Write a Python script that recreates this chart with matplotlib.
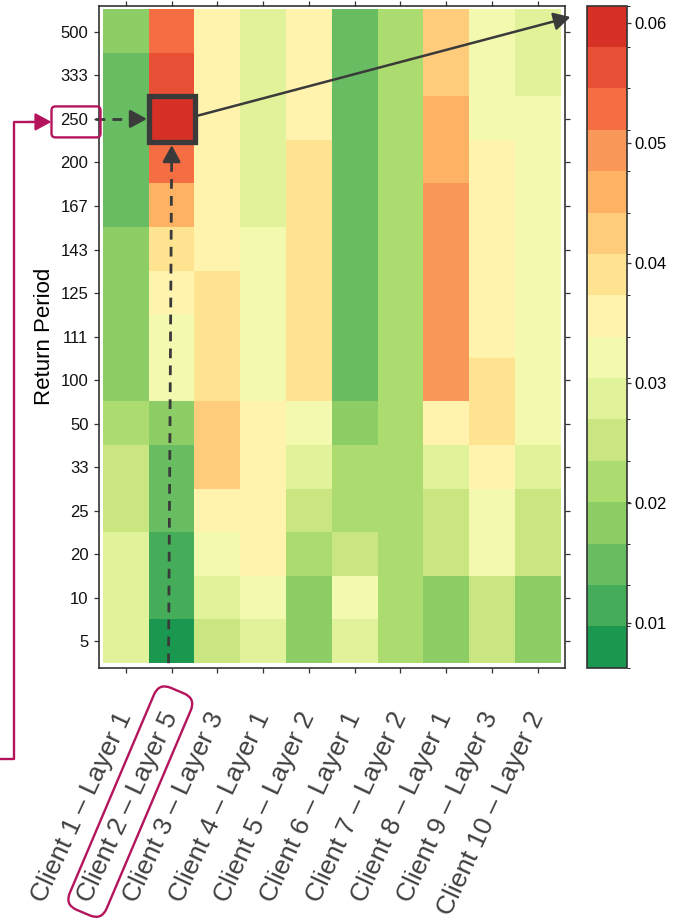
import numpy as np
import matplotlib
matplotlib.use("Agg")
import matplotlib.pyplot as plt
from matplotlib.colors import ListedColormap, BoundaryNorm
from matplotlib.patches import Rectangle, FancyBboxPatch, FancyArrowPatch
from matplotlib.lines import Line2D
from matplotlib.transforms import Affine2D, IdentityTransform

plt.rcParams["font.family"] = ["Liberation Sans", "DejaVu Sans"]

# ---------------------------------------------------------------------------
# Data: loss ratio per client layer and return period (bottom -> top)
# ---------------------------------------------------------------------------
return_periods = [5, 10, 20, 25, 33, 50, 100, 111, 125, 143, 167, 200, 250, 333, 500]
clients = ["Client 1 – Layer 1", "Client 2 – Layer 5", "Client 3 – Layer 3",
           "Client 4 – Layer 1", "Client 5 – Layer 2", "Client 6 – Layer 1",
           "Client 7 – Layer 2", "Client 8 – Layer 1", "Client 9 – Layer 3",
           "Client 10 – Layer 2"]

client_01 = [0.0287, 0.0287, 0.0287, 0.0253, 0.0253, 0.0218, 0.0184, 0.0184,
             0.0184, 0.0184, 0.0149, 0.0149, 0.0149, 0.0149, 0.0184]
client_02 = [0.0080, 0.0115, 0.0115, 0.0149, 0.0149, 0.0184, 0.0321, 0.0321,
             0.0356, 0.0390, 0.0459, 0.0528, 0.0597, 0.0563, 0.0528]
client_03 = [0.0253, 0.0287, 0.0321, 0.0356, 0.0425, 0.0425, 0.0390, 0.0390,
             0.0390, 0.0356, 0.0356, 0.0356, 0.0356, 0.0356, 0.0356]
client_04 = [0.0287, 0.0321, 0.0356, 0.0356, 0.0356, 0.0356, 0.0321, 0.0321,
             0.0321, 0.0321, 0.0287, 0.0287, 0.0287, 0.0287, 0.0287]
client_05 = [0.0184, 0.0184, 0.0218, 0.0253, 0.0287, 0.0321, 0.0390, 0.0390,
             0.0390, 0.0390, 0.0390, 0.0390, 0.0356, 0.0356, 0.0356]
client_06 = [0.0287, 0.0321, 0.0253, 0.0218, 0.0218, 0.0184, 0.0149, 0.0149,
             0.0149, 0.0149, 0.0149, 0.0149, 0.0149, 0.0149, 0.0149]
client_07 = [0.0218, 0.0218, 0.0218, 0.0218, 0.0218, 0.0218, 0.0218, 0.0218,
             0.0218, 0.0218, 0.0218, 0.0218, 0.0218, 0.0218, 0.0218]
client_08 = [0.0184, 0.0184, 0.0253, 0.0253, 0.0287, 0.0356, 0.0494, 0.0494,
             0.0494, 0.0494, 0.0494, 0.0459, 0.0459, 0.0425, 0.0425]
client_09 = [0.0253, 0.0253, 0.0321, 0.0321, 0.0356, 0.0390, 0.0390, 0.0356,
             0.0356, 0.0356, 0.0356, 0.0356, 0.0321, 0.0321, 0.0321]
client_10 = [0.0184, 0.0184, 0.0253, 0.0253, 0.0287, 0.0321, 0.0321, 0.0321,
             0.0321, 0.0321, 0.0321, 0.0321, 0.0321, 0.0287, 0.0287]

highlight_client = "Client 2 – Layer 5"
highlight_rp = 250

band_edges = np.linspace(0.0063, 0.0614, 17)
cbar_ticks = [0.01, 0.02, 0.03, 0.04, 0.05, 0.06]
band_colors = ["#1a9850", "#45ad5a", "#68bd62", "#8ccd65", "#acdc6f", "#c9e681",
               "#e0f29a", "#f3f9ae", "#fff3ae", "#fee491", "#fecc7b", "#fdb264",
               "#f99858", "#f46d43", "#e75034", "#d73027"]

values = np.column_stack([client_01, client_02, client_03, client_04, client_05,
                          client_06, client_07, client_08, client_09, client_10])

# ---------------------------------------------------------------------------
# Figure layout (pixel based, 680 x 922)
# ---------------------------------------------------------------------------
W, H = 680, 922
DARK = "#3a3a3a"
MAGENTA = "#b4145c"

fig = plt.figure(figsize=(W / 100, H / 100), dpi=100)
ax = fig.add_axes([99 / W, 1 - 668 / H, 466 / W, 662.3 / H])
cax = fig.add_axes([587 / W, 1 - 667.7 / H, 40 / W, 662 / H])

cmap = ListedColormap(band_colors)
norm = BoundaryNorm(band_edges, cmap.N)
n_rows, n_cols = values.shape
im = ax.imshow(values, cmap=cmap, norm=norm, origin="lower", aspect="auto",
               interpolation="nearest",
               extent=(-0.5, n_cols - 0.5, -0.5, n_rows - 0.5))
ax.set_xlim(-0.59, n_cols - 0.4)
ax.set_ylim(-0.61, n_rows - 0.4)

ax.set_xticks(range(n_cols))
ax.set_xticklabels(clients, rotation=65, ha="right", va="center",
                   rotation_mode="anchor", fontsize=19, color="#404040")
ax.set_yticks(range(n_rows))
ax.set_yticklabels([str(r) for r in return_periods], fontsize=12, color="#111111")
ax.tick_params(direction="out", length=3.6, width=0.9, color="#333333",
               top=True, right=True, labeltop=False, labelright=False)
ax.tick_params(axis="x", pad=29)
ax.tick_params(axis="y", pad=4)
ax.set_ylabel("Return Period", fontsize=16, labelpad=4)
for sp in ax.spines.values():
    sp.set_color("#333333")
    sp.set_linewidth(1.2)

cb = fig.colorbar(im, cax=cax, ticks=cbar_ticks)
cb.ax.tick_params(labelsize=12, length=3, width=0.9, color="#333333", pad=2)
cb.ax.set_yticklabels([f"{t:.2f}" for t in cbar_ticks])
cb.outline.set_edgecolor("#333333")
cb.outline.set_linewidth(1.2)

# ---------------------------------------------------------------------------
# Highlighted cell and pointers
# ---------------------------------------------------------------------------
ci = clients.index(highlight_client)
ri = return_periods.index(highlight_rp)

ax.add_patch(Rectangle((ci - 0.5, ri - 0.53), 1.0, 1.06, fill=False, ec=DARK,
                       lw=3.8, zorder=6, clip_on=False))

head = "-|>,head_length=0.5,head_width=0.27"


def dashed_arrow(start, tip, frac):
    # dashed shaft, then a solid head
    mid = (start[0] + (tip[0] - start[0]) * frac, start[1] + (tip[1] - start[1]) * frac)
    ax.plot([start[0], mid[0]], [start[1], mid[1]], color=DARK, lw=2,
            dashes=(3.5, 2.6), clip_on=False, zorder=7, solid_capstyle="butt")
    ax.annotate("", xy=tip, xytext=mid, annotation_clip=False,
                arrowprops=dict(arrowstyle=head, mutation_scale=20, lw=2,
                                color=DARK, shrinkA=0, shrinkB=0), zorder=7)


dashed_arrow((-0.68, ri), (ci - 0.54, ri), 0.84)
dashed_arrow((ci - 0.07, -0.5), (ci, ri - 0.6), 0.97)

ax.annotate("", xy=(n_cols - 0.28, n_rows - 0.66), xytext=(ci + 0.55, ri + 0.07),
            annotation_clip=False, zorder=7,
            arrowprops=dict(arrowstyle=head, mutation_scale=20, lw=1.8,
                            color=DARK, shrinkA=0, shrinkB=0))

# ---------------------------------------------------------------------------
# Magenta call-outs (drawn in pixel space after layout)
# ---------------------------------------------------------------------------
fig.canvas.draw()
renderer = fig.canvas.get_renderer()
px = IdentityTransform()

ylab = ax.get_yticklabels()[ri]
yb = ylab.get_window_extent(renderer)
ycx, ycy = (yb.x0 + yb.x1) / 2 + 1.5, (yb.y0 + yb.y1) / 2 - 1.5
fig.add_artist(FancyBboxPatch((ycx - 24.5, ycy - 15.5), 49, 31,
                              boxstyle="round,pad=0,rounding_size=4",
                              fc="none", ec=MAGENTA, lw=1.7, transform=px))
fig.add_artist(Line2D([0, 14, 14, 34], [H - 759, H - 759, ycy, ycy],
                      color=MAGENTA, lw=1.7, transform=px))
fig.add_artist(FancyArrowPatch((28, ycy), (ycx - 24.5, ycy), transform=px,
                               arrowstyle=head, mutation_scale=20, lw=1.5,
                               color=MAGENTA, shrinkA=0, shrinkB=0))

xlab = ax.get_xticklabels()[ci]
xb = xlab.get_window_extent(renderer)
tw, th, _ = renderer.get_text_width_height_descent(
    xlab.get_text(), xlab.get_fontproperties(), ismath=False)
ang = 67
xcx = (xb.x0 + xb.x1) / 2 + 6 * np.cos(np.radians(ang))
xcy = (xb.y0 + xb.y1) / 2 + 6 * np.sin(np.radians(ang))
blen, bwid = tw + 34, 40
rot = Affine2D().rotate_deg_around(xcx, xcy, ang)
fig.add_artist(FancyBboxPatch((xcx - blen / 2, xcy - bwid / 2), blen, bwid,
                              boxstyle="round,pad=0,rounding_size=13",
                              fc="none", ec=MAGENTA, lw=1.7,
                              transform=rot + px))

fig.savefig("out.png", dpi=100, facecolor="white")
